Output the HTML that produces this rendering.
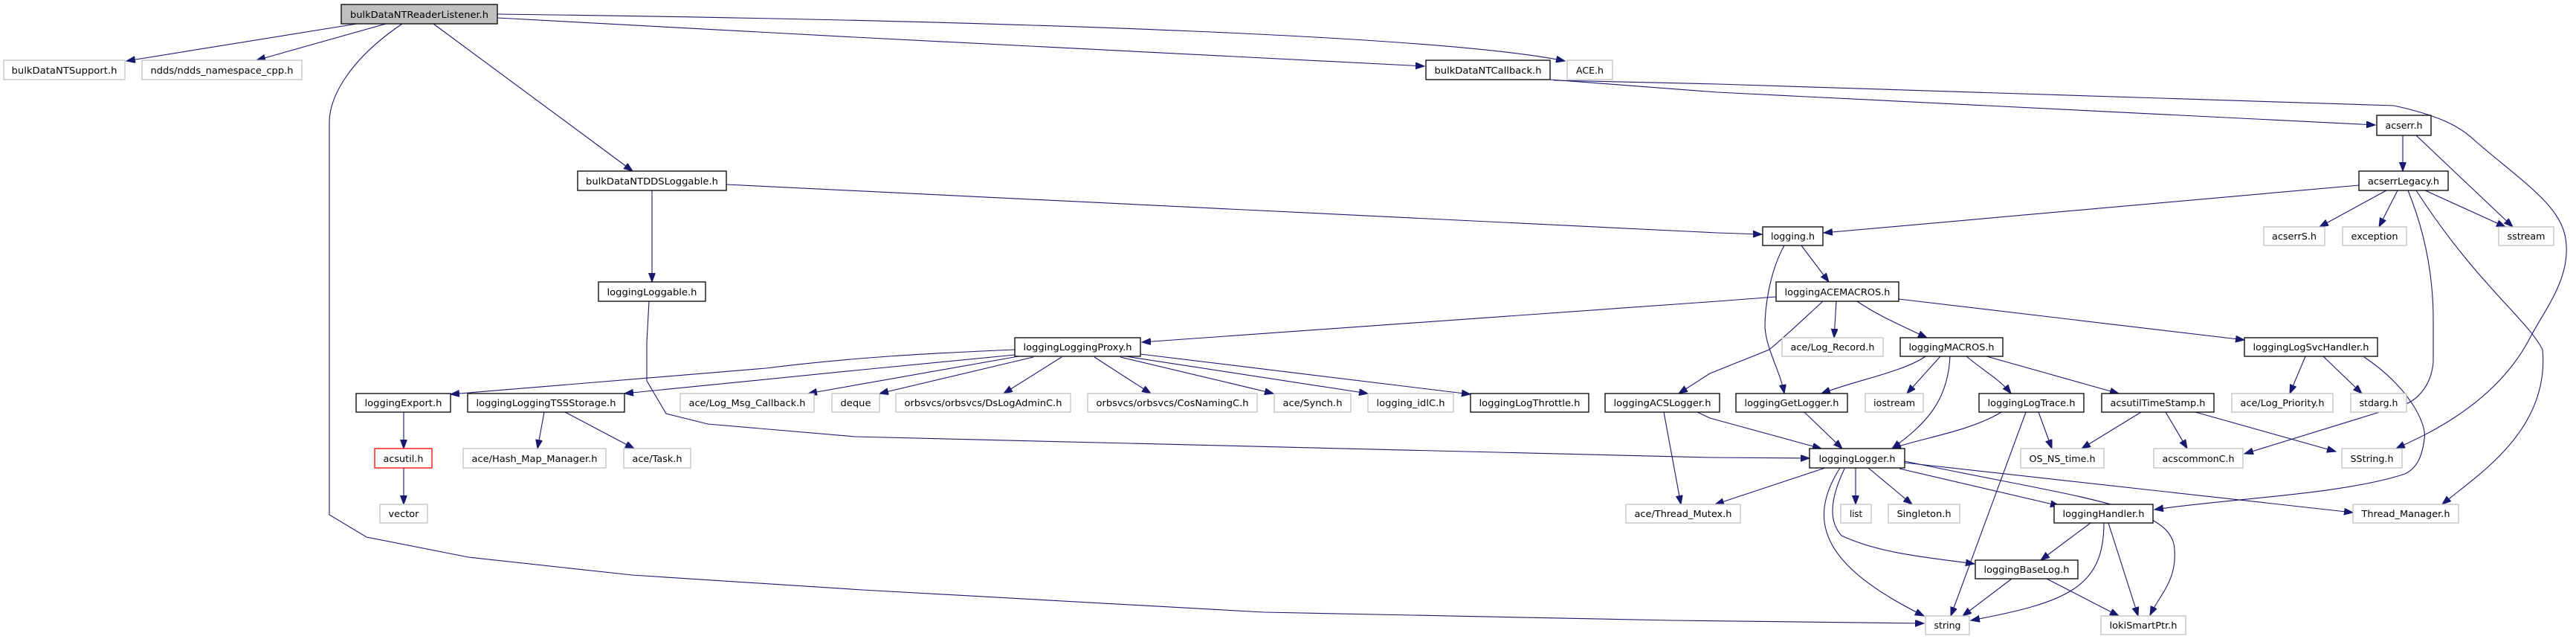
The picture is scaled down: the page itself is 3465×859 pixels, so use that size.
<!DOCTYPE html>
<html><head><meta charset="utf-8"><style>
html,body{margin:0;padding:0;background:#fff;}
svg{display:block;}
text{font-family:"DejaVu Sans","Liberation Sans",sans-serif;font-size:12.5px;fill:#000;}
.e{fill:none;stroke:#191970;stroke-width:1.1;marker-end:url(#a);}
.n{fill:#fff;stroke:#000;stroke-width:1.3;}
.g{fill:#fff;stroke:#bfbfbf;stroke-width:1.3;}
</style></head><body>
<svg width="3465" height="859" viewBox="0 0 3465 859" xmlns="http://www.w3.org/2000/svg">
<defs><marker id="a" markerUnits="userSpaceOnUse" markerWidth="13" markerHeight="10" refX="12" refY="4.5" orient="auto"><path d="M0,0 L12,4.5 L0,9 Z" fill="#191970" stroke="#191970"/></marker></defs>
<g>
<path class="e" d="M480,32 L170,82"/>
<path class="e" d="M519,32 L345,81"/>
<path class="e" d="M541,32 C470,80 443,130 443,165 L443,692 L493,722 L630,749 L850,773 L1160,793 L1700,823 L2250,834 L2588,838"/>
<path class="e" d="M583,32 L851,230"/>
<path class="e" d="M669,19 C1400,28 1950,50 2105,82"/>
<path class="e" d="M669,24 L1150,50 L1916,89"/>
<path class="e" d="M2085,107 L2310,124 L3195,168"/>
<path class="e" d="M2090,108 L2310,113 L3220,142 C3280,155 3310,170 3330,190 C3400,250 3450,280 3452,330 C3455,380 3420,420 3400,460 C3350,550 3250,590 3223,603"/>
<path class="e" d="M3232,182 L3232,230"/>
<path class="e" d="M3250,182 L3380,305"/>
<path class="e" d="M3173,249 L2453,313"/>
<path class="e" d="M3210,256 L3120,305"/>
<path class="e" d="M3225,256 L3200,305"/>
<path class="e" d="M3262,256 L3370,305"/>
<path class="e" d="M3239,256 C3265,320 3273,380 3273,430 L3273,487 C3270,520 3250,540 3230,545 L3019,610"/>
<path class="e" d="M3250,256 C3330,380 3400,430 3420,470 C3430,580 3330,640 3285,678"/>
<path class="e" d="M977,248 L2310,313 L2370,315"/>
<path class="e" d="M877,256 L877,379"/>
<path class="e" d="M2423,330 L2460,379"/>
<path class="e" d="M2400,330 C2378,370 2374,420 2374,440 C2376,470 2395,500 2400,529"/>
<path class="e" d="M2389,399 L2310,405 L1536,460"/>
<path class="e" d="M2452,405 C2430,425 2415,440 2380,470 L2300,502 L2258,529"/>
<path class="e" d="M2470,405 L2467,454"/>
<path class="e" d="M2498,405 C2520,420 2540,430 2592,454"/>
<path class="e" d="M2554,402 L3019,457"/>
<path class="e" d="M1365,470 C1250,475 1150,480 1030,495 L606,530"/>
<path class="e" d="M1365,477 L1160,497 L840,529"/>
<path class="e" d="M1370,479 L1087,529"/>
<path class="e" d="M1390,480 L1183,529"/>
<path class="e" d="M1428,480 L1350,529"/>
<path class="e" d="M1472,480 L1548,529"/>
<path class="e" d="M1507,480 L1713,529"/>
<path class="e" d="M1514,479 L1840,529"/>
<path class="e" d="M1534,476 L1978,530"/>
<path class="e" d="M732,554 L723,603"/>
<path class="e" d="M760,554 L853,603"/>
<path class="e" d="M543,554 L543,603"/>
<path class="e" d="M543,629 L543,678"/>
<path class="e" d="M873,405 L870,460 L870,512 L896,556 L952,570 L1150,587 L2300,615 L2434,616"/>
<path class="e" d="M2238,554 L2261,678"/>
<path class="e" d="M2283,554 L2300,562 L2450,603"/>
<path class="e" d="M2590,479 C2560,500 2500,510 2450,529"/>
<path class="e" d="M2610,479 L2565,529"/>
<path class="e" d="M2645,479 C2670,500 2690,510 2705,529"/>
<path class="e" d="M2672,479 L2850,529"/>
<path class="e" d="M2623,479 C2620,540 2590,570 2545,603"/>
<path class="e" d="M3101,479 L3080,529"/>
<path class="e" d="M3125,479 L3177,529"/>
<path class="e" d="M3180,480 C3240,520 3265,570 3261,590 C3258,615 3250,630 3235,637 C3150,665 3000,670 2898,685"/>
<path class="e" d="M2427,554 L2478,603"/>
<path class="e" d="M2692,554 C2650,580 2580,590 2545,603"/>
<path class="e" d="M2742,554 L2760,603"/>
<path class="e" d="M2725,554 L2624,828"/>
<path class="e" d="M2880,554 L2800,603"/>
<path class="e" d="M2913,554 L2942,603"/>
<path class="e" d="M2953,554 L3142,607"/>
<path class="e" d="M2455,629 L2307,678"/>
<path class="e" d="M2496,629 L2496,678"/>
<path class="e" d="M2513,629 L2572,678"/>
<path class="e" d="M2555,630 L2770,680"/>
<path class="e" d="M2562,622 L3165,689"/>
<path class="e" d="M2562,620 C2800,670 2925,680 2925,740 C2928,780 2905,800 2892,827"/>
<path class="e" d="M2481,630 C2462,670 2459,700 2477,720 C2530,745 2600,750 2656,758"/>
<path class="e" d="M2475,629 C2430,700 2450,760 2588,828"/>
<path class="e" d="M2812,703 L2745,753"/>
<path class="e" d="M2830,703 C2830,790 2780,810 2651,834"/>
<path class="e" d="M2836,703 L2876,828"/>
<path class="e" d="M2706,778 L2640,828"/>
<path class="e" d="M2753,778 L2850,828"/>
</g>
<g>
<rect x="459" y="6" width="210" height="26" fill="#bfbfbf" stroke="#000" stroke-width="1.3"/>
<text x="564" y="24" text-anchor="middle" textLength="186" lengthAdjust="spacingAndGlyphs">bulkDataNTReaderListener.h</text>
</g>
<g font-size="12">
<rect class="g" x="5" y="81" width="163" height="26"/><text x="86.5" y="99" text-anchor="middle" textLength="142" lengthAdjust="spacingAndGlyphs">bulkDataNTSupport.h</text>
<rect class="g" x="191" y="81" width="215" height="26"/><text x="298.5" y="99" text-anchor="middle" textLength="192" lengthAdjust="spacingAndGlyphs">ndds/ndds_namespace_cpp.h</text>
<rect class="n" x="1918" y="81" width="167" height="26"/><text x="2001.5" y="99" text-anchor="middle" textLength="144" lengthAdjust="spacingAndGlyphs">bulkDataNTCallback.h</text>
<rect class="g" x="2108" y="81" width="61" height="26"/><text x="2138.5" y="99" text-anchor="middle" textLength="37" lengthAdjust="spacingAndGlyphs">ACE.h</text>
<rect class="n" x="3197" y="155" width="73" height="27"/><text x="3233.5" y="173" text-anchor="middle" textLength="50" lengthAdjust="spacingAndGlyphs">acserr.h</text>
<rect class="n" x="777" y="230" width="200" height="26"/><text x="877" y="248" text-anchor="middle" textLength="178" lengthAdjust="spacingAndGlyphs">bulkDataNTDDSLoggable.h</text>
<rect class="n" x="3173" y="230" width="120" height="26"/><text x="3233" y="248" text-anchor="middle" textLength="96" lengthAdjust="spacingAndGlyphs">acserrLegacy.h</text>
<rect class="n" x="2371" y="305" width="81" height="25"/><text x="2411.5" y="322" text-anchor="middle" textLength="59" lengthAdjust="spacingAndGlyphs">logging.h</text>
<rect class="g" x="3045" y="305" width="82" height="25"/><text x="3086" y="322" text-anchor="middle" textLength="60" lengthAdjust="spacingAndGlyphs">acserrS.h</text>
<rect class="g" x="3151" y="305" width="86" height="25"/><text x="3194" y="322" text-anchor="middle" textLength="63" lengthAdjust="spacingAndGlyphs">exception</text>
<rect class="g" x="3361" y="305" width="74" height="25"/><text x="3398" y="322" text-anchor="middle" textLength="51" lengthAdjust="spacingAndGlyphs">sstream</text>
<rect class="n" x="805" y="379" width="144" height="26"/><text x="877" y="397" text-anchor="middle" textLength="121" lengthAdjust="spacingAndGlyphs">loggingLoggable.h</text>
<rect class="n" x="2389" y="379" width="165" height="26"/><text x="2471.5" y="397" text-anchor="middle" textLength="142" lengthAdjust="spacingAndGlyphs">loggingACEMACROS.h</text>
<rect class="n" x="1365" y="454" width="169" height="25"/><text x="1449.5" y="471" text-anchor="middle" textLength="146" lengthAdjust="spacingAndGlyphs">loggingLoggingProxy.h</text>
<rect class="g" x="2397" y="454" width="136" height="25"/><text x="2465" y="471" text-anchor="middle" textLength="113" lengthAdjust="spacingAndGlyphs">ace/Log_Record.h</text>
<rect class="n" x="2556" y="454" width="138" height="25"/><text x="2625" y="471" text-anchor="middle" textLength="115" lengthAdjust="spacingAndGlyphs">loggingMACROS.h</text>
<rect class="n" x="3019" y="454" width="179" height="25"/><text x="3108.5" y="471" text-anchor="middle" textLength="156" lengthAdjust="spacingAndGlyphs">loggingLogSvcHandler.h</text>
<rect class="n" x="479" y="529" width="127" height="25"/><text x="542.5" y="546" text-anchor="middle" textLength="104" lengthAdjust="spacingAndGlyphs">loggingExport.h</text>
<rect class="n" x="629" y="529" width="211" height="25"/><text x="734.5" y="546" text-anchor="middle" textLength="188" lengthAdjust="spacingAndGlyphs">loggingLoggingTSSStorage.h</text>
<rect class="g" x="915" y="529" width="180" height="25"/><text x="1005" y="546" text-anchor="middle" textLength="157" lengthAdjust="spacingAndGlyphs">ace/Log_Msg_Callback.h</text>
<rect class="g" x="1119" y="529" width="64" height="25"/><text x="1151" y="546" text-anchor="middle" textLength="41" lengthAdjust="spacingAndGlyphs">deque</text>
<rect class="g" x="1205" y="529" width="235" height="25"/><text x="1322.5" y="546" text-anchor="middle" textLength="212" lengthAdjust="spacingAndGlyphs">orbsvcs/orbsvcs/DsLogAdminC.h</text>
<rect class="g" x="1463" y="529" width="228" height="25"/><text x="1577" y="546" text-anchor="middle" textLength="205" lengthAdjust="spacingAndGlyphs">orbsvcs/orbsvcs/CosNamingC.h</text>
<rect class="g" x="1714" y="529" width="103" height="25"/><text x="1765.5" y="546" text-anchor="middle" textLength="80" lengthAdjust="spacingAndGlyphs">ace/Synch.h</text>
<rect class="g" x="1840" y="529" width="115" height="25"/><text x="1897.5" y="546" text-anchor="middle" textLength="92" lengthAdjust="spacingAndGlyphs">logging_idlC.h</text>
<rect class="n" x="1978" y="529" width="159" height="25"/><text x="2057.5" y="546" text-anchor="middle" textLength="136" lengthAdjust="spacingAndGlyphs">loggingLogThrottle.h</text>
<rect class="n" x="2159" y="529" width="154" height="25"/><text x="2236" y="546" text-anchor="middle" textLength="131" lengthAdjust="spacingAndGlyphs">loggingACSLogger.h</text>
<rect class="n" x="2335" y="529" width="150" height="25"/><text x="2410" y="546" text-anchor="middle" textLength="127" lengthAdjust="spacingAndGlyphs">loggingGetLogger.h</text>
<rect class="g" x="2509" y="529" width="78" height="25"/><text x="2548" y="546" text-anchor="middle" textLength="56" lengthAdjust="spacingAndGlyphs">iostream</text>
<rect class="n" x="2662" y="529" width="141" height="25"/><text x="2732.5" y="546" text-anchor="middle" textLength="118" lengthAdjust="spacingAndGlyphs">loggingLogTrace.h</text>
<rect class="n" x="2827" y="529" width="151" height="25"/><text x="2902.5" y="546" text-anchor="middle" textLength="128" lengthAdjust="spacingAndGlyphs">acsutilTimeStamp.h</text>
<rect class="g" x="3002" y="529" width="136" height="25"/><text x="3070" y="546" text-anchor="middle" textLength="113" lengthAdjust="spacingAndGlyphs">ace/Log_Priority.h</text>
<rect class="g" x="3162" y="529" width="75" height="25"/><text x="3199.5" y="546" text-anchor="middle" textLength="52" lengthAdjust="spacingAndGlyphs">stdarg.h</text>
<rect x="504" y="603" width="77" height="26" fill="#fff" stroke="#ff0000" stroke-width="1.3"/><text x="542.5" y="621" text-anchor="middle" textLength="54" lengthAdjust="spacingAndGlyphs">acsutil.h</text>
<rect class="g" x="623" y="603" width="192" height="26"/><text x="719" y="621" text-anchor="middle" textLength="169" lengthAdjust="spacingAndGlyphs">ace/Hash_Map_Manager.h</text>
<rect class="g" x="839" y="603" width="90" height="26"/><text x="884" y="621" text-anchor="middle" textLength="67" lengthAdjust="spacingAndGlyphs">ace/Task.h</text>
<rect class="n" x="2434" y="603" width="128" height="26"/><text x="2498" y="621" text-anchor="middle" textLength="103" lengthAdjust="spacingAndGlyphs">loggingLogger.h</text>
<rect class="g" x="2718" y="603" width="112" height="26"/><text x="2774" y="621" text-anchor="middle" textLength="89" lengthAdjust="spacingAndGlyphs">OS_NS_time.h</text>
<rect class="g" x="2897" y="603" width="120" height="26"/><text x="2957" y="621" text-anchor="middle" textLength="97" lengthAdjust="spacingAndGlyphs">acscommonC.h</text>
<rect class="g" x="3150" y="603" width="81" height="26"/><text x="3190.5" y="621" text-anchor="middle" textLength="58" lengthAdjust="spacingAndGlyphs">SString.h</text>
<rect class="g" x="511" y="678" width="64" height="25"/><text x="543" y="695" text-anchor="middle" textLength="41" lengthAdjust="spacingAndGlyphs">vector</text>
<rect class="g" x="2187" y="678" width="154" height="25"/><text x="2264" y="695" text-anchor="middle" textLength="131" lengthAdjust="spacingAndGlyphs">ace/Thread_Mutex.h</text>
<rect class="g" x="2476" y="678" width="41" height="25"/><text x="2496.5" y="695" text-anchor="middle" textLength="17" lengthAdjust="spacingAndGlyphs">list</text>
<rect class="g" x="2540" y="678" width="96" height="25"/><text x="2588" y="695" text-anchor="middle" textLength="73" lengthAdjust="spacingAndGlyphs">Singleton.h</text>
<rect class="n" x="2763" y="678" width="133" height="25"/><text x="2829.5" y="695" text-anchor="middle" textLength="110" lengthAdjust="spacingAndGlyphs">loggingHandler.h</text>
<rect class="g" x="3165" y="678" width="142" height="25"/><text x="3236" y="695" text-anchor="middle" textLength="119" lengthAdjust="spacingAndGlyphs">Thread_Manager.h</text>
<rect class="n" x="2657" y="753" width="138" height="25"/><text x="2726" y="770" text-anchor="middle" textLength="115" lengthAdjust="spacingAndGlyphs">loggingBaseLog.h</text>
<rect class="g" x="2590" y="828" width="59" height="25"/><text x="2619.5" y="845" text-anchor="middle" textLength="36" lengthAdjust="spacingAndGlyphs">string</text>
<rect class="g" x="2826" y="828" width="114" height="25"/><text x="2883" y="845" text-anchor="middle" textLength="91" lengthAdjust="spacingAndGlyphs">lokiSmartPtr.h</text>
</g>
</svg>
</body></html>
